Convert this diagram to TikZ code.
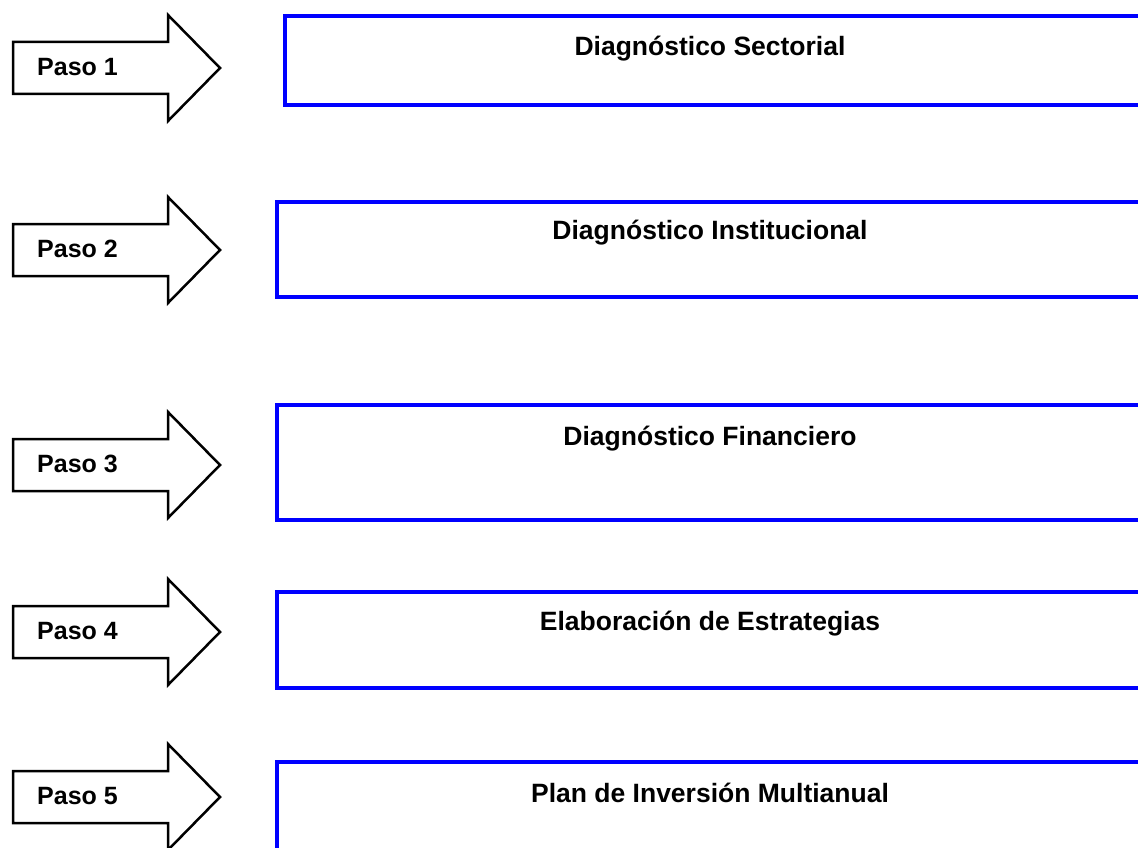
\documentclass[tikz,border=0pt]{standalone}
\usepackage{fontspec}
\setmainfont{Liberation Sans}
\usetikzlibrary{positioning}
\definecolor{cajaAzul}{RGB}{0, 0, 255}
\tikzset{
  flechapaso/.style={draw=black, line width=2.5pt, fill=white, line join=miter},
  cajapaso/.style={rectangle, draw=cajaAzul, line width=3.5pt, inner sep=0pt},
  textopaso/.style={font=\fontsize{25}{30}\selectfont\bfseries, inner sep=0pt, anchor=west},
  titulopaso/.style={font=\fontsize{26.5}{32}\selectfont\bfseries, inner sep=0pt, anchor=base}
}

\begin{document}
\begin{tikzpicture}[x=1pt, y=-1pt]
  \useasboundingbox (0,0) rectangle (1138,848);
  \clip (0,0) rectangle (1138,848);
  % paso / punta de flecha / caja arriba / caja abajo / caja izq. / linea base / titulo
  \foreach \i/\t/\arriba/\abajo/\izq/\base/\titulo in {
      1/68/16/105/285/56/{Diagn\'ostico Sectorial},
      2/250/202/297/277/239/{Diagn\'ostico Institucional},
      3/465/405/520/277/445/{Diagn\'ostico Financiero},
      4/632/592/688/277/630/{Elaboraci\'on de Estrategias},
      5/797/762/870/277/802/{Plan de Inversi\'on Multianual}} {
    \draw[flechapaso] (13,\t-26) -- (168,\t-26) -- (168,\t-53) -- (220,\t)
      -- (168,\t+53) -- (168,\t+26) -- (13,\t+26) -- cycle;
    \node[textopaso] (paso\i) at (37,\t-1) {Paso \i};
    \node[cajapaso, minimum width={(1142-\izq)*1pt}, minimum height={(\abajo-\arriba)*1pt}]
      (caja\i) at ({(\izq+1142)/2},{(\arriba+\abajo)/2}) {};
    \node[titulopaso] (titulo\i) at (710,\base) {\titulo};
  }
\end{tikzpicture}
\end{document}
